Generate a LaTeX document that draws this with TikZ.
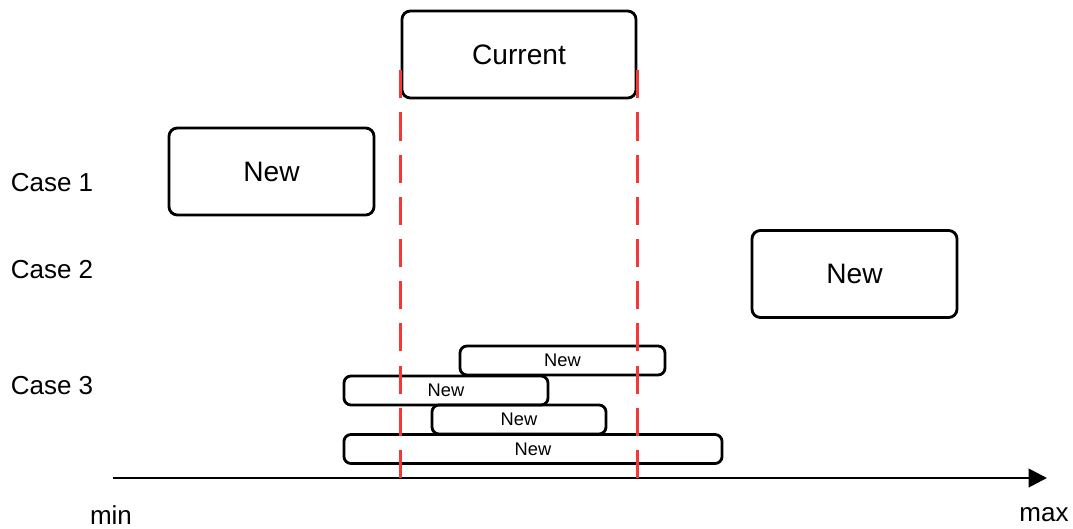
\documentclass[tikz,border=0pt]{standalone}
\usepackage{fontspec}
\setmainfont{Liberation Sans}
\usepackage{xcolor}
\usepackage{tikz}
\usetikzlibrary{arrows.meta}
\usetikzlibrary{calc}
\usetikzlibrary{positioning}
\definecolor{limitred}{RGB}{245,55,55}

\begin{document}
\begin{tikzpicture}[x=0.025cm,y=-0.025cm,semithick]
			\tikzstyle{bigbox}=[draw, line width=2pt, rounded corners=6pt, minimum height=2.175cm, font=\fontsize{20}{22}\selectfont]
			\tikzstyle{slimbox}=[draw, line width=2pt, rounded corners=5pt, minimum height=0.725cm, inner sep=0pt, font=\fontsize{13}{14}\selectfont]
			\tikzstyle{caselabel}=[font=\fontsize{18.5}{20}\selectfont]
			\tikzstyle{limit}=[limitred, line width=1.8pt, dash pattern=on 20pt off 10pt]
			\useasboundingbox (0,0) rectangle (1073,528);

 					 \node[bigbox, minimum width=5.85cm]  (cur)  at (519,54.5)   {Current};
 					 \node[bigbox, minimum width=5.125cm] (new1) at (271.5,171.5) {New};
 					 \node[bigbox, minimum width=5.125cm] (new2) at (854.5,274)   {New};
 					 \node[slimbox, minimum width=5.125cm] (nA) at (562.5,360.5) {New};
 					 \node[slimbox, minimum width=5.1cm]   (nB) at (446,390.5)   {New};
 					 \node[slimbox, minimum width=4.35cm]  (nC) at (519,419.5)   {New};
 					 \node[slimbox, minimum width=9.45cm]  (nD) at (533,449)     {New};

 					 \node[caselabel] (c1) at (52,183) {Case 1};
 					 \node[caselabel] (c2) at (52,270) {Case 2};
 					 \node[caselabel] (c3) at (52,386) {Case 3};

					 \coordinate (axL) at (113,478);
					 \coordinate (axR) at (1047,478);
 					 \node[caselabel] (lmin) at (111,515) {min};
 					 \node[caselabel] (lmax) at (1044,515) {max};

					 \draw[line width=2pt, -{Triangle[length=13pt,width=13pt]}] (axL) -- (axR);

					 % limits of the current interval
					 \draw[limit] (cur.west |- axL) -- ([yshift=-5pt]cur.west);
					 \draw[limit] (cur.east |- axL) -- ([yshift=-5pt]cur.east);

	\end{tikzpicture}
\end{document}
